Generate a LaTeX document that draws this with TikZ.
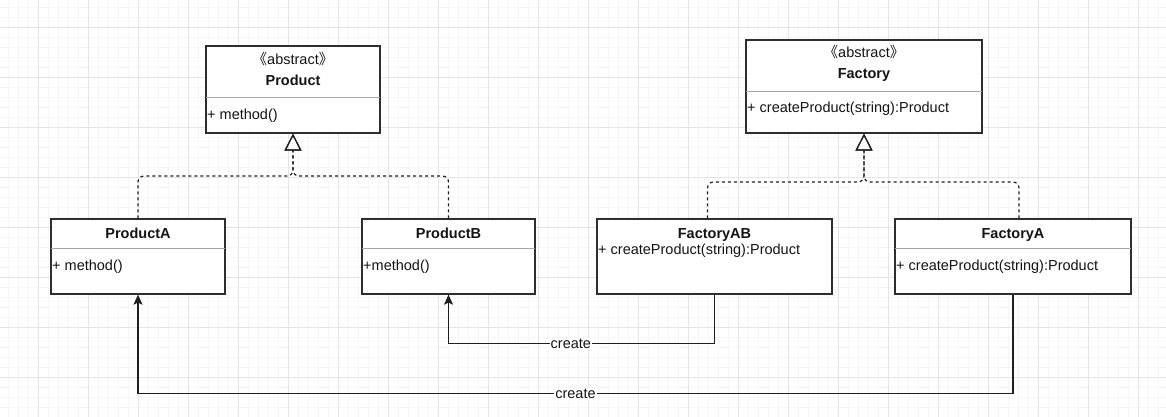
\documentclass[tikz,border=0pt]{standalone}
\usepackage{fontspec}
\setmainfont{Liberation Sans}
\newfontfamily\cjk{Noto Sans CJK SC}
\usetikzlibrary{calc,positioning,arrows.meta}

\begin{document}
\begin{tikzpicture}[x=1pt,y=-1pt]
\tikzstyle{every node}=[font=\fontsize{14.5}{17}\selectfont, text=black!92]
\tikzstyle{cls}=[draw=black!82, line width=1.3pt, fill=white, inner sep=0pt]
\tikzstyle{ttl}=[font=\fontsize{14.5}{17}\selectfont\bfseries, inner sep=0pt, anchor=base]
\tikzstyle{ster}=[inner sep=0pt, anchor=base]
\tikzstyle{op}=[inner sep=0pt, anchor=base west]
\tikzstyle{sepl}=[draw=black!35, line width=1pt]
\tikzstyle{real}=[draw=black!88, line width=1.2pt, dash pattern=on 3pt off 3pt, rounded corners=6pt, -{Triangle[open, length=17pt, width=17pt]}]
\tikzstyle{dep}=[draw=black!88, line width=1.2pt, -{Stealth[length=10pt, width=9pt, inset=2pt]}]
\tikzstyle{lbl}=[fill=white, inner sep=1pt]

\useasboundingbox (0,0) rectangle (1166,417);
\fill[white] (0,0) rectangle (1166,417);
\begin{scope}
\clip (0,0) rectangle (1166,417);
\begin{scope}[xshift=-12pt, yshift=23pt]
\draw[gray!7, line width=0.6pt, step=10pt] (-10,-30) grid (1190,440);
\draw[gray!20, line width=0.8pt, step=50pt] (-10,-30) grid (1190,440);
\end{scope}
\end{scope}

% classes
\node[cls, minimum width=174pt, minimum height=87pt] (P) at (293,89.5) {};
\node[cls, minimum width=236pt, minimum height=93pt] (F) at (864,86.5) {};
\node[cls, minimum width=174pt, minimum height=75pt] (PA) at (138,256.5) {};
\node[cls, minimum width=173pt, minimum height=75pt] (PB) at (448.5,256.5) {};
\node[cls, minimum width=235pt, minimum height=75pt] (FAB) at (714.5,256.5) {};
\node[cls, minimum width=236pt, minimum height=75pt] (FA) at (1013,256.5) {};

\draw[sepl] ($(P.north west)+(0.7,52)$) -- ($(P.north east)+(-0.7,52)$);
\draw[sepl] ($(F.north west)+(0.7,52)$) -- ($(F.north east)+(-0.7,52)$);
\draw[sepl] ($(PA.north west)+(0.7,30)$) -- ($(PA.north east)+(-0.7,30)$);
\draw[sepl] ($(PB.north west)+(0.7,30)$) -- ($(PB.north east)+(-0.7,30)$);
\draw[sepl] ($(FA.north west)+(0.7,30)$) -- ($(FA.north east)+(-0.7,30)$);

\node[ster] (Ps) at (293,64.5) {{\cjk 《}abstract{\cjk 》}};
\node[ttl] (Pn) at (293,86) {Product};
\node[op] (Pm) at (207,120) {+ method()};

\node[ster] (Fs) at (864,58) {{\cjk 《}abstract{\cjk 》}};
\node[ttl] (Fn) at (864,79) {Factory};
\node[op] (Fm) at (747,113) {+ createProduct(string):Product};

\node[ttl] (PAn) at (138,238) {ProductA};
\node[op] (PAm) at (52,270) {+ method()};
\node[ttl] (PBn) at (448.5,238) {ProductB};
\node[op] (PBm) at (363,270) {+method()};
\node[ttl] (FABn) at (714.5,238) {FactoryAB};
\node[op] (FABm) at (598,254) {+ createProduct(string):Product};
\node[ttl] (FAn) at (1013,238) {FactoryA};
\node[op] (FAm) at (896,270) {+ createProduct(string):Product};

% realization
\coordinate (Pj) at (293,176);
\coordinate (Fj) at (864,182);
\draw[real] (PA.north) |- (Pj) -- (P.south);
\draw[real] (PB.north) |- (Pj) -- (P.south);
\draw[real] ([xshift=-7pt]FAB.north) |- (Fj) -- (F.south);
\draw[real] ([xshift=6pt]FA.north) |- (Fj) -- (F.south);

% create
\draw[dep] (FAB.south) -- ++(0,49) -| node[lbl, pos=0.27] {create} (PB.south);
\draw[dep] (FA.south) -- ++(0,99) -| node[lbl, pos=0.25] {create} (PA.south);
\end{tikzpicture}
\end{document}
